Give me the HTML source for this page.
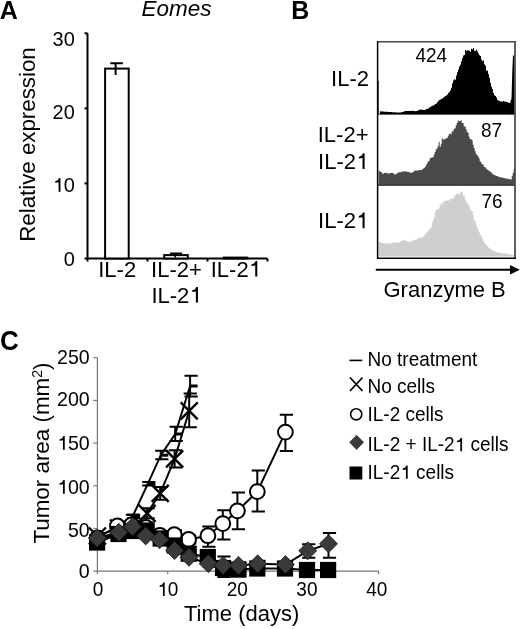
<!DOCTYPE html><html><head><meta charset="utf-8"><style>html,body{margin:0;padding:0;background:#fff;}svg{display:block;filter:grayscale(100%);}text{font-family:"Liberation Sans", sans-serif;}</style></head><body>
<svg width="520" height="629" viewBox="0 0 520 629">
<rect width="520" height="629" fill="#fff"/>
<text transform="translate(-0.3,18.7) scale(1,1.04)" font-size="25" font-weight="bold">A</text>
<text transform="translate(141.6,16.3) scale(1,1.02)" font-size="22.5" font-style="italic">Eomes</text>
<text transform="translate(34.6,241.8) rotate(-90) scale(1,1.02)" font-size="22.3">Relative expression</text>
<path d="M87.5,33.3 V258.5 H267.5" fill="none" stroke="#000" stroke-width="2"/>
<line x1="84.5" y1="258.5" x2="87.5" y2="258.5" stroke="#000" stroke-width="2"/>
<text transform="translate(74.8,265.6) scale(1.05,1.04)" font-size="19" text-anchor="end">0</text>
<line x1="84.5" y1="183.4" x2="87.5" y2="183.4" stroke="#000" stroke-width="2"/>
<text transform="translate(74.8,191.7) scale(1.05,1.04)" font-size="19" text-anchor="end">10</text>
<line x1="84.5" y1="108.4" x2="87.5" y2="108.4" stroke="#000" stroke-width="2"/>
<text transform="translate(74.8,118.6) scale(1.05,1.04)" font-size="19" text-anchor="end">20</text>
<line x1="84.5" y1="33.3" x2="87.5" y2="33.3" stroke="#000" stroke-width="2"/>
<text transform="translate(74.8,46.4) scale(1.05,1.04)" font-size="19" text-anchor="end">30</text>
<line x1="87.5" y1="258.5" x2="87.5" y2="261.5" stroke="#000" stroke-width="2"/>
<line x1="147.5" y1="258.5" x2="147.5" y2="261.5" stroke="#000" stroke-width="2"/>
<line x1="207.5" y1="258.5" x2="207.5" y2="261.5" stroke="#000" stroke-width="2"/>
<line x1="267.5" y1="258.5" x2="267.5" y2="261.5" stroke="#000" stroke-width="2"/>
<rect x="105.1" y="68.6" width="23.6" height="189.9" fill="#fff" stroke="#000" stroke-width="2"/>
<rect x="164.2" y="255.1" width="23.6" height="3.4" fill="#fff" stroke="#000" stroke-width="2"/>
<rect x="223.7" y="257.6" width="23.6" height="0.9" fill="#fff" stroke="#000" stroke-width="2"/>
<path d="M110.2,63.2 H122.9 M115.6,63.2 V75.1" stroke="#000" stroke-width="2" fill="none"/>
<path d="M170,253.4 H182.1 M175.2,253.4 V257.5" stroke="#000" stroke-width="1.6" fill="none"/>
<text transform="translate(117.2,276.6) scale(1,1.04)" font-size="22" text-anchor="middle">IL-2</text>
<text transform="translate(176.5,276.6) scale(1,1.04)" font-size="22" text-anchor="middle">IL-2+</text>
<text transform="translate(176.5,302.6) scale(1,1.04)" font-size="22" text-anchor="middle">IL-21</text>
<text transform="translate(235.8,276.6) scale(1,1.04)" font-size="22" text-anchor="middle">IL-21</text>
<text transform="translate(291.3,18.6) scale(1,1.04)" font-size="25" font-weight="bold">B</text>
<polygon points="378.3,81 378.9,81 378.9,114.3 378.3,114.3" fill="#000"/>
<polygon points="380.0,111.3 380.0,111.3 381.0,111.3 381.0,111.4 382.0,111.4 382.0,111.4 383.0,111.4 383.0,111.5 384.0,111.5 384.0,111.7 385.0,111.7 385.0,111.7 386.0,111.7 386.0,111.8 387.0,111.8 387.0,111.8 388.0,111.8 388.0,111.9 389.0,111.9 389.0,112.0 390.0,112.0 390.0,112.1 391.0,112.1 391.0,112.1 392.0,112.1 392.0,112.2 393.0,112.2 393.0,112.2 394.0,112.2 394.0,112.2 395.0,112.2 395.0,112.3 396.0,112.3 396.0,112.4 397.0,112.4 397.0,112.4 398.0,112.4 398.0,112.5 399.0,112.5 399.0,112.5 400.0,112.5 400.0,112.5 401.0,112.5 401.0,112.3 402.0,112.3 402.0,111.9 403.0,111.9 403.0,111.7 404.0,111.7 404.0,111.3 405.0,111.3 405.0,111.1 406.0,111.1 406.0,110.9 407.0,110.9 407.0,110.9 408.0,110.9 408.0,111.1 409.0,111.1 409.0,111.0 410.0,111.0 410.0,111.0 411.0,111.0 411.0,110.8 412.0,110.8 412.0,110.8 413.0,110.8 413.0,111.0 414.0,111.0 414.0,111.1 415.0,111.1 415.0,111.3 416.0,111.3 416.0,111.0 417.0,111.0 417.0,110.7 418.0,110.7 418.0,110.2 419.0,110.2 419.0,109.7 420.0,109.7 420.0,109.6 421.0,109.6 421.0,109.7 422.0,109.7 422.0,109.8 423.0,109.8 423.0,109.9 424.0,109.9 424.0,109.9 425.0,109.9 425.0,109.7 426.0,109.7 426.0,109.1 427.0,109.1 427.0,108.8 428.0,108.8 428.0,108.4 429.0,108.4 429.0,107.6 430.0,107.6 430.0,107.0 431.0,107.0 431.0,106.3 432.0,106.3 432.0,105.8 433.0,105.8 433.0,105.4 434.0,105.4 434.0,104.7 435.0,104.7 435.0,104.0 436.0,104.0 436.0,103.4 437.0,103.4 437.0,102.3 438.0,102.3 438.0,100.8 439.0,100.8 439.0,100.0 440.0,100.0 440.0,99.5 441.0,99.5 441.0,98.7 442.0,98.7 442.0,98.5 443.0,98.5 443.0,97.5 444.0,97.5 444.0,96.7 445.0,96.7 445.0,96.0 446.0,96.0 446.0,95.4 447.0,95.4 447.0,94.4 448.0,94.4 448.0,93.1 449.0,93.1 449.0,91.9 450.0,91.9 450.0,90.6 451.0,90.6 451.0,87.7 452.0,87.7 452.0,83.5 453.0,83.5 453.0,80.5 454.0,80.5 454.0,79.3 455.0,79.3 455.0,79.8 456.0,79.8 456.0,75.4 457.0,75.4 457.0,72.2 458.0,72.2 458.0,69.4 459.0,69.4 459.0,66.4 460.0,66.4 460.0,64.8 461.0,64.8 461.0,61.3 462.0,61.3 462.0,58.3 463.0,58.3 463.0,55.4 464.0,55.4 464.0,55.1 465.0,55.1 465.0,50.1 466.0,50.1 466.0,50.9 467.0,50.9 467.0,50.3 468.0,50.3 468.0,50.6 469.0,50.6 469.0,50.8 470.0,50.8 470.0,51.8 471.0,51.8 471.0,48.7 472.0,48.7 472.0,49.2 473.0,49.2 473.0,48.0 474.0,48.0 474.0,50.8 475.0,50.8 475.0,51.0 476.0,51.0 476.0,49.8 477.0,49.8 477.0,51.4 478.0,51.4 478.0,53.6 479.0,53.6 479.0,55.3 480.0,55.3 480.0,56.1 481.0,56.1 481.0,59.4 482.0,59.4 482.0,60.9 483.0,60.9 483.0,60.5 484.0,60.5 484.0,64.3 485.0,64.3 485.0,65.8 486.0,65.8 486.0,70.5 487.0,70.5 487.0,70.8 488.0,70.8 488.0,74.1 489.0,74.1 489.0,77.8 490.0,77.8 490.0,82.7 491.0,82.7 491.0,86.7 492.0,86.7 492.0,89.0 493.0,89.0 493.0,92.9 494.0,92.9 494.0,95.2 495.0,95.2 495.0,96.1 496.0,96.1 496.0,97.6 497.0,97.6 497.0,99.8 498.0,99.8 498.0,100.5 499.0,100.5 499.0,101.0 500.0,101.0 500.0,101.4 501.0,101.4 501.0,101.4 502.0,101.4 502.0,101.5 503.0,101.5 503.0,101.0 504.0,101.0 504.0,101.4 505.0,101.4 505.0,101.7 506.0,101.7 506.0,102.1 507.0,102.1 507.0,102.1 508.0,102.1 508.0,102.8 509.0,102.8 509.0,102.9 510.0,102.9 510.0,103.3 511.0,103.3 511.0,100.6 512.0,100.6 511.5,98.5 511.5,114.3 380.0,114.3" fill="#000"/>
<polygon points="509.5,103.1 510,103.1 511.5,98.5 512.3,70.8 513,55.4 514.3,55.4 514.5,114.3 509.5,114.3" fill="#000"/>
<polygon points="378.7,170.6 378.7,170.4 379.7,170.4 379.7,171.8 380.7,171.8 380.7,171.7 381.7,171.7 381.7,173.1 382.7,173.1 382.7,174.0 383.7,174.0 383.7,173.0 384.7,173.0 384.7,172.8 385.7,172.8 385.7,172.8 386.7,172.8 386.7,173.6 387.7,173.6 387.7,173.3 388.7,173.3 388.7,173.7 389.7,173.7 389.7,173.1 390.7,173.1 390.7,172.9 391.7,172.9 391.7,172.7 392.7,172.7 392.7,173.3 393.7,173.3 393.7,173.9 394.7,173.9 394.7,174.5 395.7,174.5 395.7,174.3 396.7,174.3 396.7,173.3 397.7,173.3 397.7,172.8 398.7,172.8 398.7,172.2 399.7,172.2 399.7,171.9 400.7,171.9 400.7,172.3 401.7,172.3 401.7,171.5 402.7,171.5 402.7,171.6 403.7,171.6 403.7,171.4 404.7,171.4 404.7,171.3 405.7,171.3 405.7,171.3 406.7,171.3 406.7,172.0 407.7,172.0 407.7,171.7 408.7,171.7 408.7,172.3 409.7,172.3 409.7,172.6 410.7,172.6 410.7,172.8 411.7,172.8 411.7,172.7 412.7,172.7 412.7,172.1 413.7,172.1 413.7,170.8 414.7,170.8 414.7,170.6 415.7,170.6 415.7,170.7 416.7,170.7 416.7,170.6 417.7,170.6 417.7,170.2 418.7,170.2 418.7,170.3 419.7,170.3 419.7,169.8 420.7,169.8 420.7,170.3 421.7,170.3 421.7,169.5 422.7,169.5 422.7,168.8 423.7,168.8 423.7,168.1 424.7,168.1 424.7,167.0 425.7,167.0 425.7,165.3 426.7,165.3 426.7,163.2 427.7,163.2 427.7,161.4 428.7,161.4 428.7,160.7 429.7,160.7 429.7,158.3 430.7,158.3 430.7,157.8 431.7,157.8 431.7,157.3 432.7,157.3 432.7,157.2 433.7,157.2 433.7,154.6 434.7,154.6 434.7,151.9 435.7,151.9 435.7,149.5 436.7,149.5 436.7,148.2 437.7,148.2 437.7,145.7 438.7,145.7 438.7,141.8 439.7,141.8 439.7,147.0 440.7,147.0 440.7,144.2 441.7,144.2 441.7,138.3 442.7,138.3 442.7,139.6 443.7,139.6 443.7,139.5 444.7,139.5 444.7,138.9 445.7,138.9 445.7,138.2 446.7,138.2 446.7,137.9 447.7,137.9 447.7,136.3 448.7,136.3 448.7,134.3 449.7,134.3 449.7,133.2 450.7,133.2 450.7,134.6 451.7,134.6 451.7,131.2 452.7,131.2 452.7,131.3 453.7,131.3 453.7,129.0 454.7,129.0 454.7,128.2 455.7,128.2 455.7,125.3 456.7,125.3 456.7,123.0 457.7,123.0 457.7,120.5 458.7,120.5 458.7,121.3 459.7,121.3 459.7,120.9 460.7,120.9 460.7,120.3 461.7,120.3 461.7,122.9 462.7,122.9 462.7,123.1 463.7,123.1 463.7,126.5 464.7,126.5 464.7,126.5 465.7,126.5 465.7,129.3 466.7,129.3 466.7,131.9 467.7,131.9 467.7,132.8 468.7,132.8 468.7,136.7 469.7,136.7 469.7,139.3 470.7,139.3 470.7,139.0 471.7,139.0 471.7,140.5 472.7,140.5 472.7,144.7 473.7,144.7 473.7,148.1 474.7,148.1 474.7,151.2 475.7,151.2 475.7,153.7 476.7,153.7 476.7,155.3 477.7,155.3 477.7,156.2 478.7,156.2 478.7,158.4 479.7,158.4 479.7,161.2 480.7,161.2 480.7,162.5 481.7,162.5 481.7,164.3 482.7,164.3 482.7,164.5 483.7,164.5 483.7,166.9 484.7,166.9 484.7,167.2 485.7,167.2 485.7,168.5 486.7,168.5 486.7,169.6 487.7,169.6 487.7,169.9 488.7,169.9 488.7,170.8 489.7,170.8 489.7,171.7 490.7,171.7 490.7,172.3 491.7,172.3 491.7,173.5 492.7,173.5 492.7,174.6 493.7,174.6 493.7,175.0 494.7,175.0 494.7,175.2 495.7,175.2 495.7,175.9 496.7,175.9 496.7,176.1 497.7,176.1 497.7,176.6 498.7,176.6 498.7,176.9 499.7,176.9 499.7,177.3 500.7,177.3 500.7,177.5 501.7,177.5 501.7,177.6 502.7,177.6 502.7,177.8 503.7,177.8 503.7,178.2 504.7,178.2 504.7,178.3 505.7,178.3 505.7,178.4 506.7,178.4 506.7,178.8 507.7,178.8 507.7,178.9 508.7,178.9 508.7,178.9 509.7,178.9 509.7,179.2 510.7,179.2 510.7,179.4 511.7,179.4 511.7,176.3 512.7,176.3 512.7,172.7 513.7,172.7 513.7,168.9 514.7,168.9 514.6,185.5 514.6,185.5 378.7,185.5" fill="#4a4a4a"/>
<polygon points="378.7,241.2 378.7,241.6 379.7,241.6 379.7,241.8 380.7,241.8 380.7,242.4 381.7,242.4 381.7,242.9 382.7,242.9 382.7,243.1 383.7,243.1 383.7,243.6 384.7,243.6 384.7,243.6 385.7,243.6 385.7,243.5 386.7,243.5 386.7,243.2 387.7,243.2 387.7,243.3 388.7,243.3 388.7,243.5 389.7,243.5 389.7,243.6 390.7,243.6 390.7,243.3 391.7,243.3 391.7,243.4 392.7,243.4 392.7,242.6 393.7,242.6 393.7,242.5 394.7,242.5 394.7,242.5 395.7,242.5 395.7,242.3 396.7,242.3 396.7,242.7 397.7,242.7 397.7,242.5 398.7,242.5 398.7,242.5 399.7,242.5 399.7,241.7 400.7,241.7 400.7,241.0 401.7,241.0 401.7,240.7 402.7,240.7 402.7,239.9 403.7,239.9 403.7,240.1 404.7,240.1 404.7,240.4 405.7,240.4 405.7,241.2 406.7,241.2 406.7,241.1 407.7,241.1 407.7,242.2 408.7,242.2 408.7,242.1 409.7,242.1 409.7,241.9 410.7,241.9 410.7,241.4 411.7,241.4 411.7,240.6 412.7,240.6 412.7,240.7 413.7,240.7 413.7,240.2 414.7,240.2 414.7,239.8 415.7,239.8 415.7,239.8 416.7,239.8 416.7,238.9 417.7,238.9 417.7,238.5 418.7,238.5 418.7,237.4 419.7,237.4 419.7,237.5 420.7,237.5 420.7,237.7 421.7,237.7 421.7,237.4 422.7,237.4 422.7,237.0 423.7,237.0 423.7,235.4 424.7,235.4 424.7,234.2 425.7,234.2 425.7,232.7 426.7,232.7 426.7,232.6 427.7,232.6 427.7,231.0 428.7,231.0 428.7,230.1 429.7,230.1 429.7,228.0 430.7,228.0 430.7,227.5 431.7,227.5 431.7,222.8 432.7,222.8 432.7,220.1 433.7,220.1 433.7,217.6 434.7,217.6 434.7,212.7 435.7,212.7 435.7,209.8 436.7,209.8 436.7,209.4 437.7,209.4 437.7,209.8 438.7,209.8 438.7,207.8 439.7,207.8 439.7,205.8 440.7,205.8 440.7,203.1 441.7,203.1 441.7,204.4 442.7,204.4 442.7,201.2 443.7,201.2 443.7,202.3 444.7,202.3 444.7,201.0 445.7,201.0 445.7,200.7 446.7,200.7 446.7,200.3 447.7,200.3 447.7,200.4 448.7,200.4 448.7,200.5 449.7,200.5 449.7,198.5 450.7,198.5 450.7,199.1 451.7,199.1 451.7,199.1 452.7,199.1 452.7,198.5 453.7,198.5 453.7,197.0 454.7,197.0 454.7,194.9 455.7,194.9 455.7,193.9 456.7,193.9 456.7,193.9 457.7,193.9 457.7,193.3 458.7,193.3 458.7,194.5 459.7,194.5 459.7,192.8 460.7,192.8 460.7,191.3 461.7,191.3 461.7,191.7 462.7,191.7 462.7,195.5 463.7,195.5 463.7,195.0 464.7,195.0 464.7,199.3 465.7,199.3 465.7,201.6 466.7,201.6 466.7,203.1 467.7,203.1 467.7,204.4 468.7,204.4 468.7,206.1 469.7,206.1 469.7,209.5 470.7,209.5 470.7,210.5 471.7,210.5 471.7,211.0 472.7,211.0 472.7,215.0 473.7,215.0 473.7,219.9 474.7,219.9 474.7,221.3 475.7,221.3 475.7,224.8 476.7,224.8 476.7,227.7 477.7,227.7 477.7,230.1 478.7,230.1 478.7,231.9 479.7,231.9 479.7,234.6 480.7,234.6 480.7,235.7 481.7,235.7 481.7,237.7 482.7,237.7 482.7,240.6 483.7,240.6 483.7,241.9 484.7,241.9 484.7,243.6 485.7,243.6 485.7,244.8 486.7,244.8 486.7,245.9 487.7,245.9 487.7,247.0 488.7,247.0 488.7,248.1 489.7,248.1 489.7,248.8 490.7,248.8 490.7,249.5 491.7,249.5 491.7,250.0 492.7,250.0 492.7,250.6 493.7,250.6 493.7,251.0 494.7,251.0 494.7,251.6 495.7,251.6 495.7,251.8 496.7,251.8 496.7,252.4 497.7,252.4 497.7,252.5 498.7,252.5 498.7,252.6 499.7,252.6 499.7,252.9 500.7,252.9 500.7,253.1 501.7,253.1 501.7,253.2 502.7,253.2 502.7,253.2 503.7,253.2 503.7,253.5 504.7,253.5 504.7,253.6 505.7,253.6 505.7,253.7 506.7,253.7 506.7,253.9 507.7,253.9 507.7,254.1 508.7,254.1 508.7,254.3 509.7,254.3 509.7,254.4 510.7,254.4 510.7,254.7 511.7,254.7 511.7,254.9 512.7,254.9 512.7,255.3 513.7,255.3 513.7,255.8 514.7,255.8 514.6,256.5 514.6,256.5 378.7,256.5" fill="#cfcfcf"/>
<line x1="378" y1="114" x2="515" y2="114" stroke="#000" stroke-width="1.2"/>
<line x1="378" y1="185.2" x2="515" y2="185.2" stroke="#333" stroke-width="1.2"/>
<line x1="377" y1="41.8" x2="515.8" y2="41.8" stroke="#4a4a4a" stroke-width="1.4"/>
<line x1="377.6" y1="41.2" x2="377.6" y2="259" stroke="#000" stroke-width="1.5"/>
<line x1="515" y1="41.2" x2="515" y2="259" stroke="#3a3a3a" stroke-width="1.6"/>
<line x1="377" y1="258.3" x2="515.8" y2="258.3" stroke="#000" stroke-width="1.5"/>
<text transform="translate(415.5,62) scale(1,1.04)" font-size="19">424</text>
<text transform="translate(481,136.5) scale(1,1.04)" font-size="19">87</text>
<text transform="translate(481.5,208) scale(1,1.04)" font-size="19">76</text>
<text transform="translate(369,85.9) scale(1,1.04)" font-size="22" text-anchor="end">IL-2</text>
<text transform="translate(368.5,142.2) scale(1,1.04)" font-size="22" text-anchor="end">IL-2+</text>
<text transform="translate(368.2,169) scale(1,1.04)" font-size="22" text-anchor="end">IL-21</text>
<text transform="translate(368.2,228.2) scale(1,1.04)" font-size="22" text-anchor="end">IL-21</text>
<line x1="375.8" y1="269.7" x2="511" y2="269.7" stroke="#000" stroke-width="2"/>
<polygon points="510,265 519.8,269.7 510,274.4" fill="#000"/>
<text transform="translate(383.5,296.5) scale(1,1.02)" font-size="22">Granzyme B</text>
<text transform="translate(0,350.2) scale(1,1.04)" font-size="26" font-weight="bold">C</text>
<path d="M97.4,357.7 V571.2 H378.7" fill="none" stroke="#777" stroke-width="1.2"/>
<line x1="93.3" y1="571.2" x2="97.4" y2="571.2" stroke="#777" stroke-width="1.2"/>
<text transform="translate(89.7,578.1) scale(1.03,1.04)" font-size="19" text-anchor="end">0</text>
<line x1="93.3" y1="528.5" x2="97.4" y2="528.5" stroke="#777" stroke-width="1.2"/>
<text transform="translate(89.7,536.9) scale(1.03,1.04)" font-size="19" text-anchor="end">50</text>
<line x1="93.3" y1="485.8" x2="97.4" y2="485.8" stroke="#777" stroke-width="1.2"/>
<text transform="translate(89.7,493.7) scale(1.03,1.04)" font-size="19" text-anchor="end">100</text>
<line x1="93.3" y1="443.1" x2="97.4" y2="443.1" stroke="#777" stroke-width="1.2"/>
<text transform="translate(89.7,449.7) scale(1.03,1.04)" font-size="19" text-anchor="end">150</text>
<line x1="93.3" y1="400.4" x2="97.4" y2="400.4" stroke="#777" stroke-width="1.2"/>
<text transform="translate(89.7,406.3) scale(1.03,1.04)" font-size="19" text-anchor="end">200</text>
<line x1="93.3" y1="357.7" x2="97.4" y2="357.7" stroke="#777" stroke-width="1.2"/>
<text transform="translate(89.7,364.2) scale(1.03,1.04)" font-size="19" text-anchor="end">250</text>
<line x1="97.4" y1="571.2" x2="97.4" y2="574.2" stroke="#777" stroke-width="1.2"/>
<text transform="translate(98.0,596) scale(1,1.04)" font-size="19" text-anchor="middle">0</text>
<line x1="167.7" y1="571.2" x2="167.7" y2="574.2" stroke="#777" stroke-width="1.2"/>
<text transform="translate(167.8,596) scale(1,1.04)" font-size="19" text-anchor="middle">10</text>
<line x1="238.0" y1="571.2" x2="238.0" y2="574.2" stroke="#777" stroke-width="1.2"/>
<text transform="translate(237.3,596) scale(1,1.04)" font-size="19" text-anchor="middle">20</text>
<line x1="308.3" y1="571.2" x2="308.3" y2="574.2" stroke="#777" stroke-width="1.2"/>
<text transform="translate(306.9,596) scale(1,1.04)" font-size="19" text-anchor="middle">30</text>
<line x1="378.6" y1="571.2" x2="378.6" y2="574.2" stroke="#777" stroke-width="1.2"/>
<text transform="translate(376.8,596) scale(1,1.04)" font-size="19" text-anchor="middle">40</text>
<text transform="translate(184,621) scale(1,1.02)" font-size="22">Time (days)</text>
<text transform="translate(48.6,543.6) rotate(-90) scale(1,1.02)" font-size="22.4">Tumor area (mm<tspan font-size="14" dy="-6.8">2</tspan><tspan dy="6.8">)</tspan></text>
<path d="M97.4,539.0 V543.0 M91.8,539.0 H105.0 M91.8,543.0 H105.0 M118.5,529.5 V535.5 M112.9,529.5 H126.1 M112.9,535.5 H126.1 M132.6,514.8 V518.2 M127.0,514.8 H140.2 M127.0,518.2 H140.2 M147.8,482.0 V485.6 M142.2,482.0 H155.4 M142.2,485.6 H155.4 M160.8,450.7 V459.2 M155.2,450.7 H168.4 M155.2,459.2 H168.4 M175.2,426.7 V441.0 M169.6,426.7 H182.8 M169.6,441.0 H182.8 M190.1,375.7 V396.4 M184.5,375.7 H197.7 M184.5,396.4 H197.7" stroke="#000" stroke-width="2" fill="none"/>
<polyline points="97.4,541.0 118.5,532.5 132.6,516.5 147.8,483.8 160.8,455.2 175.2,434.0 190.1,386.0" fill="none" stroke="#000" stroke-width="2"/>
<line x1="96.9" y1="541.0" x2="104.9" y2="541.0" stroke="#000" stroke-width="3"/>
<line x1="118.0" y1="532.5" x2="126.0" y2="532.5" stroke="#000" stroke-width="3"/>
<line x1="132.1" y1="516.5" x2="140.1" y2="516.5" stroke="#000" stroke-width="3"/>
<line x1="147.3" y1="483.8" x2="155.3" y2="483.8" stroke="#000" stroke-width="3"/>
<line x1="160.3" y1="455.2" x2="168.3" y2="455.2" stroke="#000" stroke-width="3"/>
<line x1="174.7" y1="434.0" x2="182.7" y2="434.0" stroke="#000" stroke-width="3"/>
<line x1="189.6" y1="386.0" x2="197.6" y2="386.0" stroke="#000" stroke-width="3"/>
<path d="M97.4,533.0 V539.0 M91.8,533.0 H105.0 M91.8,539.0 H105.0 M118.5,525.0 V531.0 M112.9,525.0 H126.1 M112.9,531.0 H126.1 M132.6,527.0 V533.0 M127.0,527.0 H140.2 M127.0,533.0 H140.2 M147.1,508.3 V518.3 M141.5,508.3 H154.7 M141.5,518.3 H154.7 M160.2,487.0 V499.8 M154.6,487.0 H167.8 M154.6,499.8 H167.8 M174.6,450.3 V467.5 M169.0,450.3 H182.2 M169.0,467.5 H182.2 M189.2,393.6 V427.3 M183.6,393.6 H196.8 M183.6,427.3 H196.8" stroke="#000" stroke-width="2" fill="none"/>
<polyline points="97.4,536.0 118.5,528.0 132.6,530.0 147.1,513.3 160.2,493.4 174.6,458.9 189.2,410.8" fill="none" stroke="#000" stroke-width="2"/>
<path d="M88.9,527.5 L105.9,544.5 M88.9,544.5 L105.9,527.5" stroke="#000" stroke-width="2.4"/>
<path d="M110.0,519.5 L127.0,536.5 M110.0,536.5 L127.0,519.5" stroke="#000" stroke-width="2.4"/>
<path d="M124.1,521.5 L141.1,538.5 M124.1,538.5 L141.1,521.5" stroke="#000" stroke-width="2.4"/>
<path d="M138.6,504.8 L155.6,521.8 M138.6,521.8 L155.6,504.8" stroke="#000" stroke-width="2.4"/>
<path d="M151.7,484.9 L168.7,501.9 M151.7,501.9 L168.7,484.9" stroke="#000" stroke-width="2.4"/>
<path d="M166.1,450.4 L183.1,467.4 M166.1,467.4 L183.1,450.4" stroke="#000" stroke-width="2.4"/>
<path d="M180.7,402.3 L197.7,419.3 M180.7,419.3 L197.7,402.3" stroke="#000" stroke-width="2.4"/>
<path d="M97.4,535.0 V541.0 M91.8,535.0 H105.0 M91.8,541.0 H105.0 M117.4,523.0 V529.0 M111.8,523.0 H125.0 M111.8,529.0 H125.0 M131.5,514.8 V529.0 M125.9,514.8 H139.1 M125.9,529.0 H139.1 M146.0,522.5 V532.5 M140.4,522.5 H153.6 M140.4,532.5 H153.6 M159.9,532.3 V538.3 M154.3,532.3 H167.5 M154.3,538.3 H167.5 M174.3,529.9 V539.5 M168.7,529.9 H181.9 M168.7,539.5 H181.9 M188.6,535.5 V543.5 M183.0,535.5 H196.2 M183.0,543.5 H196.2 M207.9,526.5 V546.7 M202.3,526.5 H215.5 M202.3,546.7 H215.5 M222.8,510.2 V539.5 M217.2,510.2 H230.4 M217.2,539.5 H230.4 M237.4,492.5 V529.3 M231.8,492.5 H245.0 M231.8,529.3 H245.0 M257.3,470.6 V511.6 M251.7,470.6 H264.9 M251.7,511.6 H264.9 M285.4,414.7 V451.1 M279.8,414.7 H293.0 M279.8,451.1 H293.0" stroke="#000" stroke-width="2" fill="none"/>
<polyline points="97.4,538.0 117.4,526.0 131.5,525.0 146.0,527.5 159.9,535.3 174.3,534.7 188.6,539.5 207.9,535.7 222.8,523.6 237.4,510.9 257.3,491.6 285.4,432.1" fill="none" stroke="#000" stroke-width="2"/>
<circle cx="97.4" cy="538.0" r="7.4" fill="#fff" stroke="#000" stroke-width="2"/>
<circle cx="117.4" cy="526.0" r="7.4" fill="#fff" stroke="#000" stroke-width="2"/>
<circle cx="131.5" cy="525.0" r="7.4" fill="#fff" stroke="#000" stroke-width="2"/>
<circle cx="146.0" cy="527.5" r="7.4" fill="#fff" stroke="#000" stroke-width="2"/>
<circle cx="159.9" cy="535.3" r="7.4" fill="#fff" stroke="#000" stroke-width="2"/>
<circle cx="174.3" cy="534.7" r="7.4" fill="#fff" stroke="#000" stroke-width="2"/>
<circle cx="188.6" cy="539.5" r="7.4" fill="#fff" stroke="#000" stroke-width="2"/>
<circle cx="207.9" cy="535.7" r="7.4" fill="#fff" stroke="#000" stroke-width="2"/>
<circle cx="222.8" cy="523.6" r="7.4" fill="#fff" stroke="#000" stroke-width="2"/>
<circle cx="237.4" cy="510.9" r="7.4" fill="#fff" stroke="#000" stroke-width="2"/>
<circle cx="257.3" cy="491.6" r="7.4" fill="#fff" stroke="#000" stroke-width="2"/>
<circle cx="285.4" cy="432.1" r="7.4" fill="#fff" stroke="#000" stroke-width="2"/>
<path d="M97.1,540.5 V544.5 M91.5,540.5 H104.7 M91.5,544.5 H104.7 M118.5,531.0 V537.0 M112.9,531.0 H126.1 M112.9,537.0 H126.1 M132.5,528.0 V534.0 M126.9,528.0 H140.1 M126.9,534.0 H140.1 M146.6,527.5 V533.5 M141.0,527.5 H154.2 M141.0,533.5 H154.2 M160.7,535.5 V541.5 M155.1,535.5 H168.3 M155.1,541.5 H168.3 M174.7,542.5 V548.5 M169.1,542.5 H182.3 M169.1,548.5 H182.3 M188.7,550.7 V556.7 M183.1,550.7 H196.3 M183.1,556.7 H196.3 M207.8,554.0 V560.0 M202.2,554.0 H215.4 M202.2,560.0 H215.4 M223.0,556.6 V577.0 M217.4,556.6 H230.6 M217.4,577.0 H230.6 M238.5,566.6 V572.6 M232.9,566.6 H246.1 M232.9,572.6 H246.1 M257.3,565.5 V571.5 M251.7,565.5 H264.9 M251.7,571.5 H264.9 M285.0,566.5 V570.5 M279.4,566.5 H292.6 M279.4,570.5 H292.6 M307.0,568.0 V572.0 M301.4,568.0 H314.6 M301.4,572.0 H314.6 M328.1,568.0 V572.0 M322.5,568.0 H335.7 M322.5,572.0 H335.7" stroke="#000" stroke-width="2" fill="none"/>
<polyline points="97.1,542.5 118.5,534.0 132.5,531.0 146.6,530.5 160.7,538.5 174.7,545.5 188.7,553.7 207.8,557.0 223.0,568.0 238.5,569.6 257.3,568.5 285.0,568.5 307.0,570.0 328.1,570.0" fill="none" stroke="#000" stroke-width="2"/>
<rect x="89.0" y="534.4" width="16.2" height="16.2" fill="#000"/>
<rect x="110.4" y="525.9" width="16.2" height="16.2" fill="#000"/>
<rect x="124.4" y="522.9" width="16.2" height="16.2" fill="#000"/>
<rect x="138.5" y="522.4" width="16.2" height="16.2" fill="#000"/>
<rect x="152.6" y="530.4" width="16.2" height="16.2" fill="#000"/>
<rect x="166.6" y="537.4" width="16.2" height="16.2" fill="#000"/>
<rect x="180.6" y="545.6" width="16.2" height="16.2" fill="#000"/>
<rect x="199.7" y="548.9" width="16.2" height="16.2" fill="#000"/>
<rect x="214.9" y="559.9" width="16.2" height="16.2" fill="#000"/>
<rect x="230.4" y="561.5" width="16.2" height="16.2" fill="#000"/>
<rect x="249.2" y="560.4" width="16.2" height="16.2" fill="#000"/>
<rect x="276.9" y="560.4" width="16.2" height="16.2" fill="#000"/>
<rect x="298.9" y="561.9" width="16.2" height="16.2" fill="#000"/>
<rect x="320.0" y="561.9" width="16.2" height="16.2" fill="#000"/>
<path d="M97.2,535.2 V541.2 M91.6,535.2 H104.8 M91.6,541.2 H104.8 M118.8,529.3 V535.3 M113.2,529.3 H126.4 M113.2,535.3 H126.4 M132.5,523.7 V529.7 M126.9,523.7 H140.1 M126.9,529.7 H140.1 M145.7,532.9 V538.9 M140.1,532.9 H153.3 M140.1,538.9 H153.3 M159.6,536.7 V542.7 M154.0,536.7 H167.2 M154.0,542.7 H167.2 M174.6,547.6 V553.6 M169.0,547.6 H182.2 M169.0,553.6 H182.2 M189.0,554.3 V560.3 M183.4,554.3 H196.6 M183.4,560.3 H196.6 M208.4,560.7 V566.7 M202.8,560.7 H216.0 M202.8,566.7 H216.0 M223.1,562.4 V568.4 M217.5,562.4 H230.7 M217.5,568.4 H230.7 M238.5,562.4 V568.4 M232.9,562.4 H246.1 M232.9,568.4 H246.1 M257.7,560.8 V566.8 M252.1,560.8 H265.3 M252.1,566.8 H265.3 M285.4,561.6 V567.6 M279.8,561.6 H293.0 M279.8,567.6 H293.0 M307.7,544.3 V557.7 M302.1,544.3 H315.3 M302.1,557.7 H315.3 M328.5,533.1 V557.7 M322.9,533.1 H336.1 M322.9,557.7 H336.1" stroke="#000" stroke-width="2" fill="none"/>
<polyline points="97.2,538.2 118.8,532.3 132.5,526.7 145.7,535.9 159.6,539.7 174.6,550.6 189.0,557.3 208.4,563.7 223.1,565.4 238.5,565.4 257.7,563.8 285.4,564.6 307.7,550.8 328.5,543.8" fill="none" stroke="#000" stroke-width="2"/>
<polygon points="97.2,529.2 106.2,538.2 97.2,547.2 88.2,538.2" fill="#3a3a3a" stroke="#1a1a1a" stroke-width="0.8"/>
<polygon points="118.8,523.3 127.8,532.3 118.8,541.3 109.8,532.3" fill="#3a3a3a" stroke="#1a1a1a" stroke-width="0.8"/>
<polygon points="132.5,517.7 141.5,526.7 132.5,535.7 123.5,526.7" fill="#3a3a3a" stroke="#1a1a1a" stroke-width="0.8"/>
<polygon points="145.7,526.9 154.7,535.9 145.7,544.9 136.7,535.9" fill="#3a3a3a" stroke="#1a1a1a" stroke-width="0.8"/>
<polygon points="159.6,530.7 168.6,539.7 159.6,548.7 150.6,539.7" fill="#3a3a3a" stroke="#1a1a1a" stroke-width="0.8"/>
<polygon points="174.6,541.6 183.6,550.6 174.6,559.6 165.6,550.6" fill="#3a3a3a" stroke="#1a1a1a" stroke-width="0.8"/>
<polygon points="189.0,548.3 198.0,557.3 189.0,566.3 180.0,557.3" fill="#3a3a3a" stroke="#1a1a1a" stroke-width="0.8"/>
<polygon points="208.4,554.7 217.4,563.7 208.4,572.7 199.4,563.7" fill="#3a3a3a" stroke="#1a1a1a" stroke-width="0.8"/>
<polygon points="223.1,556.4 232.1,565.4 223.1,574.4 214.1,565.4" fill="#3a3a3a" stroke="#1a1a1a" stroke-width="0.8"/>
<polygon points="238.5,556.4 247.5,565.4 238.5,574.4 229.5,565.4" fill="#3a3a3a" stroke="#1a1a1a" stroke-width="0.8"/>
<polygon points="257.7,554.8 266.7,563.8 257.7,572.8 248.7,563.8" fill="#3a3a3a" stroke="#1a1a1a" stroke-width="0.8"/>
<polygon points="285.4,555.6 294.4,564.6 285.4,573.6 276.4,564.6" fill="#3a3a3a" stroke="#1a1a1a" stroke-width="0.8"/>
<polygon points="307.7,541.8 316.7,550.8 307.7,559.8 298.7,550.8" fill="#3a3a3a" stroke="#1a1a1a" stroke-width="0.8"/>
<polygon points="328.5,534.8 337.5,543.8 328.5,552.8 319.5,543.8" fill="#3a3a3a" stroke="#1a1a1a" stroke-width="0.8"/>
<line x1="349.5" y1="360.4" x2="362.3" y2="360.4" stroke="#000" stroke-width="1.6"/>
<text transform="translate(367.5,365.8) scale(1,1.02)" font-size="19">No treatment</text>
<path d="M350,377.5 L362.5,391 M350,391 L362.5,377.5" stroke="#000" stroke-width="1.8"/>
<text transform="translate(367.5,392.7) scale(1,1.02)" font-size="19">No cells</text>
<circle cx="356.2" cy="414.3" r="5.6" fill="#fff" stroke="#000" stroke-width="1.6"/>
<text transform="translate(367.5,421.2) scale(1,1.02)" font-size="19">IL-2 cells</text>
<polygon points="356.6,435.2 363.6,442.3 356.6,449.4 349.6,442.3" fill="#3a3a3a" stroke="#1a1a1a" stroke-width="0.6"/>
<text transform="translate(367.5,451.2) scale(1,1.02)" font-size="19">IL-2 + IL-21 cells</text>
<rect x="349.5" y="466.5" width="12.8" height="13" fill="#000"/>
<text transform="translate(367.5,478.8) scale(1,1.02)" font-size="19">IL-21 cells</text>
<g transform="translate(74.8,191.7) scale(1.05,1.04)"><rect x="-20.74" y="-13.87" width="10.05" height="14.47" fill="#fff"/><path d="M-13.66,-13.06 L-14.99,-13.06 L-16.19,-11.11 L-18.66,-10.03 L-18.66,-8.70 L-15.43,-9.16 L-15.43,0.00 L-13.66,0.00 Z" fill="#000"/></g>
<g transform="translate(176.5,302.6) scale(1,1.04)"><rect x="13.43" y="-15.94" width="11.35" height="16.54" fill="#fff"/><path d="M21.47,-15.12 L19.93,-15.12 L18.54,-12.87 L15.68,-11.62 L15.68,-10.08 L19.42,-10.60 L19.42,0.00 L21.47,0.00 Z" fill="#000"/></g>
<g transform="translate(235.8,276.6) scale(1,1.04)"><rect x="13.43" y="-15.94" width="11.35" height="16.54" fill="#fff"/><path d="M21.47,-15.12 L19.93,-15.12 L18.54,-12.87 L15.68,-11.62 L15.68,-10.08 L19.42,-10.60 L19.42,0.00 L21.47,0.00 Z" fill="#000"/></g>
<g transform="translate(368.2,169) scale(1,1.04)"><rect x="-11.64" y="-15.94" width="11.35" height="16.54" fill="#fff"/><path d="M-3.61,-15.12 L-5.15,-15.12 L-6.53,-12.87 L-9.39,-11.62 L-9.39,-10.08 L-5.65,-10.60 L-5.65,0.00 L-3.61,0.00 Z" fill="#000"/></g>
<g transform="translate(368.2,228.2) scale(1,1.04)"><rect x="-11.64" y="-15.94" width="11.35" height="16.54" fill="#fff"/><path d="M-3.61,-15.12 L-5.15,-15.12 L-6.53,-12.87 L-9.39,-11.62 L-9.39,-10.08 L-5.65,-10.60 L-5.65,0.00 L-3.61,0.00 Z" fill="#000"/></g>
<g transform="translate(89.7,493.7) scale(1.03,1.04)"><rect x="-31.30" y="-13.87" width="10.05" height="14.47" fill="#fff"/><path d="M-24.22,-13.06 L-25.55,-13.06 L-26.75,-11.11 L-29.22,-10.03 L-29.22,-8.70 L-25.99,-9.16 L-25.99,0.00 L-24.22,0.00 Z" fill="#000"/></g>
<g transform="translate(89.7,449.7) scale(1.03,1.04)"><rect x="-31.30" y="-13.87" width="10.05" height="14.47" fill="#fff"/><path d="M-24.22,-13.06 L-25.55,-13.06 L-26.75,-11.11 L-29.22,-10.03 L-29.22,-8.70 L-25.99,-9.16 L-25.99,0.00 L-24.22,0.00 Z" fill="#000"/></g>
<g transform="translate(167.8,596) scale(1,1.04)"><rect x="-10.18" y="-13.87" width="10.05" height="14.47" fill="#fff"/><path d="M-3.10,-13.06 L-4.43,-13.06 L-5.63,-11.11 L-8.10,-10.03 L-8.10,-8.70 L-4.87,-9.16 L-4.87,0.00 L-3.10,0.00 Z" fill="#000"/></g>
<g transform="translate(367.5,451.2) scale(1,1.02)"><rect x="87.50" y="-13.87" width="10.05" height="14.47" fill="#fff"/><path d="M94.58,-13.06 L93.25,-13.06 L92.05,-11.11 L89.58,-10.03 L89.58,-8.70 L92.81,-9.16 L92.81,0.00 L94.58,0.00 Z" fill="#000"/></g>
<g transform="translate(367.5,478.8) scale(1,1.02)"><rect x="33.13" y="-13.87" width="10.05" height="14.47" fill="#fff"/><path d="M40.20,-13.06 L38.87,-13.06 L37.67,-11.11 L35.20,-10.03 L35.20,-8.70 L38.43,-9.16 L38.43,0.00 L40.20,0.00 Z" fill="#000"/></g>
</svg></body></html>
